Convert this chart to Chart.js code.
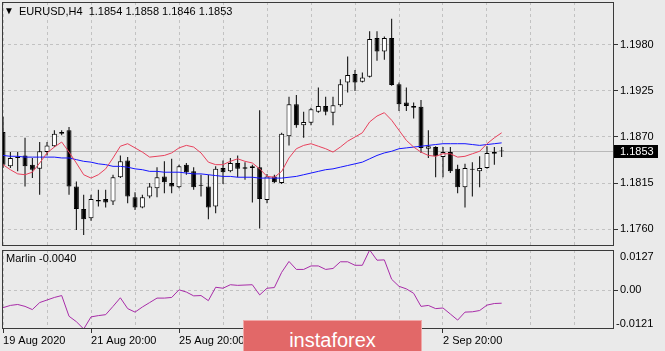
<!DOCTYPE html>
<html>
<head>
<meta charset="utf-8">
<script src="https://cdn.jsdelivr.net/npm/chart.js@4.4.0/dist/chart.umd.min.js"></script>
<style>
html, body { margin: 0; padding: 0; background: #eaeaea; }
#wrap { position: relative; width: 665px; height: 351px; overflow: hidden; background: #eaeaea;
        font-family: "Liberation Sans", Arial, sans-serif; font-size: 11px; color: #000; }
canvas { position: absolute; left: 0; }
#main { top: 0; }
#sub { top: 247px; }
.lbl { position: absolute; white-space: pre; line-height: 13px; }
#logo { position: absolute; left: 243px; top: 320px; width: 177px; height: 40px; background: #e26868;
        border: 1px solid #f0a8a8; color: #fff; font-size: 20px; text-align: center; line-height: 38px; }
</style>
</head>
<body>
<div id="wrap">
  <canvas id="main" width="665" height="249"></canvas>
  <canvas id="sub" width="665" height="104"></canvas>
  <div class="lbl" style="left:4px;top:4px;font-size:10px;">&#9660;</div>
  <div class="lbl" style="left:19px;top:5px;">EURUSD,H4  1.1854 1.1858 1.1846 1.1853</div>
  <div class="lbl" style="left:6px;top:252px;">Marlin -0.0040</div>
  <div class="lbl" style="left:620px;top:250px;">0.0127</div>
  <div class="lbl" style="left:616px;top:317px;">-0.0121</div>
  <div id="logo">instaforex</div>
</div>
<script>
// EURUSD H4 candles, 19 Aug 2020 20:00 .. 4 Sep 2020 04:00
const opens = [
  1.1876, 1.1835, 1.1845, 1.1848, 1.1837, 1.1832, 1.1852, 1.1859, 1.1874, 1.1878,
  1.1811, 1.1784, 1.1773, 1.1793, 1.1796, 1.1793, 1.1822, 1.1842, 1.1798, 1.1786,
  1.1799, 1.1809, 1.1823, 1.1815, 1.1810, 1.1837, 1.1829, 1.1813, 1.1811, 1.1787,
  1.1833, 1.1829, 1.1839, 1.1832, 1.1835, 1.1834, 1.1795, 1.1823, 1.1815, 1.1871,
  1.1909, 1.1884, 1.1887, 1.1900, 1.1907, 1.1899, 1.1908, 1.1935, 1.1945, 1.1936,
  1.1942, 1.1988, 1.1972, 1.1988, 1.1933, 1.1911, 1.1907, 1.1906, 1.1856, 1.1858,
  1.1846, 1.1852, 1.1832, 1.1810, 1.1832, 1.1829, 1.1833, 1.1850, 1.1854
];
const highs = [
  1.1894, 1.1852, 1.1852, 1.1869, 1.1845, 1.1864, 1.1864, 1.1878, 1.1878, 1.1882,
  1.1817, 1.1801, 1.1801, 1.1807, 1.1807, 1.1825, 1.1848, 1.1846, 1.1804, 1.1801,
  1.1815, 1.1834, 1.1841, 1.1844, 1.1837, 1.1839, 1.1834, 1.1825, 1.1825, 1.1835,
  1.1842, 1.1845, 1.1848, 1.1840, 1.1837, 1.1902, 1.1826, 1.1825, 1.1875, 1.1918,
  1.1920, 1.1900, 1.1905, 1.1929, 1.1918, 1.1918, 1.1939, 1.1966, 1.1950, 1.1947,
  1.1996, 1.1996, 1.1990, 1.2011, 1.1935, 1.1929, 1.1911, 1.1914, 1.1878, 1.1859,
  1.1858, 1.1858, 1.1837, 1.1838, 1.1840, 1.1847, 1.1859, 1.1858, 1.1858
];
const lows = [
  1.1833, 1.1833, 1.1829, 1.1811, 1.1821, 1.1801, 1.1848, 1.1858, 1.1872, 1.1801,
  1.1759, 1.1753, 1.1770, 1.1787, 1.1786, 1.1789, 1.1821, 1.1791, 1.1783, 1.1785,
  1.1797, 1.1798, 1.1803, 1.1803, 1.1809, 1.1825, 1.1807, 1.1799, 1.1772, 1.1779,
  1.1814, 1.1828, 1.1822, 1.1819, 1.1792, 1.1761, 1.1791, 1.1815, 1.1814, 1.1860,
  1.1881, 1.1869, 1.1884, 1.1899, 1.1896, 1.1884, 1.1906, 1.1923, 1.1925, 1.1935,
  1.1941, 1.1961, 1.1962, 1.1931, 1.1901, 1.1901, 1.1892, 1.1851, 1.1845, 1.1822,
  1.1822, 1.1827, 1.1803, 1.1786, 1.1799, 1.1810, 1.1832, 1.1837, 1.1846
];
const closes = [
  1.1837, 1.1845, 1.1846, 1.1835, 1.1831, 1.1853, 1.1860, 1.1874, 1.1876, 1.1811,
  1.1784, 1.1772, 1.1796, 1.1795, 1.1792, 1.1822, 1.1841, 1.1799, 1.1786, 1.1798,
  1.1811, 1.1822, 1.1816, 1.1811, 1.1835, 1.1828, 1.1810, 1.1812, 1.1786, 1.1832,
  1.1828, 1.1839, 1.1832, 1.1834, 1.1833, 1.1796, 1.1823, 1.1816, 1.1874, 1.1909,
  1.1884, 1.1888, 1.1903, 1.1907, 1.1900, 1.1908, 1.1933, 1.1944, 1.1935, 1.1941,
  1.1987, 1.1972, 1.1988, 1.1932, 1.1909, 1.1907, 1.1905, 1.1857, 1.1859, 1.1847,
  1.1852, 1.1829, 1.1810, 1.1833, 1.1831, 1.1833, 1.1851, 1.1852, 1.1853
];

// moving averages drawn on the price panel
const fastMA = [
  1.1837, 1.1831, 1.1826, 1.1825, 1.1828, 1.1839, 1.1851, 1.1858, 1.1864, 1.1852,
  1.1839, 1.1825, 1.1821, 1.1825, 1.1832, 1.1845, 1.1859, 1.1862, 1.1857, 1.1852,
  1.1846, 1.1847, 1.1848, 1.1851, 1.1857, 1.1860, 1.1858, 1.1851, 1.1840, 1.1837,
  1.1837, 1.1841, 1.1844, 1.1841, 1.1839, 1.1832, 1.1823, 1.1822, 1.1829, 1.1845,
  1.1856, 1.1860, 1.1862, 1.1859, 1.1856, 1.1852, 1.1858, 1.1865, 1.1870, 1.1875,
  1.1888, 1.1895, 1.1899, 1.1890, 1.1878, 1.1866, 1.1858, 1.1852, 1.1848, 1.1847,
  1.1850, 1.1850, 1.1846, 1.1847, 1.1850, 1.1853, 1.1862, 1.1869, 1.1875
];
const slowMA = [
  1.1848, 1.1847, 1.1847, 1.1846, 1.1846, 1.1846, 1.1846, 1.1846, 1.1845, 1.1845,
  1.1843, 1.1841, 1.1840, 1.1838, 1.1837, 1.1835, 1.1835, 1.1834, 1.1832, 1.1831,
  1.1829, 1.1829, 1.1828, 1.1828, 1.1828, 1.1827, 1.1826, 1.1826, 1.1825, 1.1824,
  1.1823, 1.1823, 1.1822, 1.1822, 1.1822, 1.1821, 1.1821, 1.1821, 1.1821, 1.1822,
  1.1823, 1.1825, 1.1827, 1.1829, 1.1831, 1.1832, 1.1834, 1.1836, 1.1838, 1.1840,
  1.1844, 1.1848, 1.1851, 1.1853, 1.1856, 1.1857, 1.1858, 1.1859, 1.1860, 1.1861,
  1.1862, 1.1862, 1.1862, 1.1862, 1.1861, 1.1860, 1.1861, 1.1862, 1.1863
];

// Marlin oscillator (sub window)
const marlin = [
  -0.0054, -0.0047, -0.0044, -0.0050, -0.0060, -0.0038, -0.0030, -0.0022, -0.0016, -0.0081,
  -0.0098, -0.0121, -0.0083, -0.0079, -0.0076, -0.0050, -0.0023, -0.0057, -0.0068, -0.0052,
  -0.0038, -0.0024, -0.0024, -0.0022, 0.0002, -0.0005, -0.0017, -0.0016, -0.0032, 0.0010,
  0.0007, 0.0018, 0.0016, 0.0017, 0.0018, -0.0014, 0.0007, 0.0009, 0.0057, 0.0091,
  0.0066, 0.0066, 0.0077, 0.0077, 0.0066, 0.0069, 0.0090, 0.0090, 0.0079, 0.0079,
  0.0127, 0.0095, 0.0096, 0.0035, 0.0013, 0.0005, -0.0009, -0.0050, -0.0047, -0.0057,
  -0.0055, -0.0074, -0.0093, -0.0068, -0.0067, -0.0063, -0.0046, -0.0041, -0.0040
];

const priceTicks = [1.1760, 1.1815, 1.1870, 1.1925, 1.1980];
const gridBars = [0, 6, 12, 18, 24, 30, 36, 42, 48, 54, 60, 66, 72, 78];
const dateBars = [0, 12, 24, 36, 48, 60];
const dateLabels = ["19 Aug 2020", "21 Aug 20:00", "25 Aug 20:00", "27 Aug 20:00", "31 Aug 20:00", "2 Sep 20:00"];

const X_MIN = -0.14;
const X_MAX = 83.32;
const GRID = "#c2c2c2";

Chart.defaults.font.family = "'Liberation Sans', Arial, sans-serif";
Chart.defaults.font.size = 11;
Chart.defaults.color = "#000";

const pts = arr => arr.map((v, i) => ({ x: i, y: v }));
const noPad = s => { s.paddingTop = 0; s.paddingBottom = 0; s.paddingLeft = 0; s.paddingRight = 0; };

// frame around the plot area, like the terminal draws it
const framePlugin = {
    id: "frame",
    afterDraw(chart) {
        const { ctx, chartArea: a } = chart;
        ctx.save();
        ctx.strokeStyle = "#3a3a3a";
        ctx.lineWidth = 1;
        ctx.strokeRect(Math.round(a.left) + 0.5, Math.round(a.top) + 0.5,
            Math.round(a.right - a.left) - 1, Math.round(a.bottom - a.top) - 1);
        ctx.restore();
    }
};

// bid line and price tag for the last close
const bidPlugin = {
    id: "bid",
    beforeDatasetsDraw(chart) {
        const { ctx, chartArea: a } = chart;
        const y = Math.round(chart.scales.y.getPixelForValue(closes[closes.length - 1])) + 0.5;
        ctx.save();
        ctx.strokeStyle = "#b9b9b9";
        ctx.lineWidth = 1;
        ctx.beginPath();
        ctx.moveTo(a.left, y);
        ctx.lineTo(a.right, y);
        ctx.stroke();
        ctx.restore();
    },
    afterDraw(chart) {
        const { ctx, chartArea: a } = chart;
        const last = closes[closes.length - 1];
        const y = Math.round(chart.scales.y.getPixelForValue(last));
        ctx.save();
        ctx.fillStyle = "#000";
        ctx.fillRect(a.right, y - 6, 44, 13);
        ctx.fillStyle = "#fff";
        ctx.font = "11px 'Liberation Sans', Arial, sans-serif";
        ctx.textBaseline = "middle";
        ctx.fillText(last.toFixed(4), a.right + 6, y + 0.5);
        ctx.restore();
    }
};

new Chart(document.getElementById("main"), {
    type: "bar",
    data: {
        datasets: [
            { type: "line", data: pts(fastMA), borderColor: "#e8415c", borderWidth: 1, pointRadius: 0 },
            { type: "line", data: pts(slowMA), borderColor: "#1515ff", borderWidth: 1, pointRadius: 0 },
            {
                data: opens.map((o, i) => ({ x: i, y: [o, closes[i]] })),
                backgroundColor: ctx => closes[ctx.dataIndex] >= opens[ctx.dataIndex] ? "#fff" : "#000",
                borderColor: "#000",
                borderWidth: 1,
                borderSkipped: false,
                barThickness: 5,
                grouped: false,
                inflateAmount: 0
            },
            {
                data: lows.map((l, i) => ({ x: i, y: [l, highs[i]] })),
                backgroundColor: "#000",
                borderWidth: 0,
                barThickness: 1,
                grouped: false,
                inflateAmount: 0
            }
        ]
    },
    options: {
        responsive: false,
        animation: false,
        devicePixelRatio: 1,
        layout: { padding: { left: 2, top: 2, right: 0, bottom: 3 } },
        plugins: { legend: { display: false }, tooltip: { enabled: false } },
        scales: {
            x: {
                type: "linear", min: X_MIN, max: X_MAX, offset: false,
                afterBuildTicks: s => { s.ticks = gridBars.map(v => ({ value: v })); },
                ticks: { display: false },
                grid: { color: GRID, drawTicks: false, offset: false },
                border: { display: false, dash: [3, 3] },
                afterFit: s => { s.height = 0; noPad(s); }
            },
            y: {
                position: "right", min: 1.1740, max: 1.2031,
                afterBuildTicks: s => { s.ticks = priceTicks.map(v => ({ value: v })); },
                ticks: { callback: v => v.toFixed(4), padding: 2 },
                grid: { color: GRID, tickColor: "#333", tickLength: 4 },
                border: { display: false, dash: [3, 3] },
                afterFit: s => { s.width = 51; noPad(s); }
            }
        }
    },
    plugins: [bidPlugin, framePlugin]
});

new Chart(document.getElementById("sub"), {
    type: "line",
    data: {
        datasets: [
            { data: pts(marlin), borderColor: "#a82ca8", borderWidth: 1, pointRadius: 0 }
        ]
    },
    options: {
        responsive: false,
        animation: false,
        devicePixelRatio: 1,
        layout: { padding: { left: 2, top: 3, right: 0, bottom: 0 } },
        plugins: { legend: { display: false }, tooltip: { enabled: false } },
        scales: {
            x: {
                type: "linear", min: X_MIN, max: X_MAX, offset: false,
                afterBuildTicks: s => { s.ticks = gridBars.map(v => ({ value: v })); },
                ticks: {
                    autoSkip: false, maxRotation: 0, align: "start", padding: 1,
                    callback: v => { const k = dateBars.indexOf(v); return k >= 0 ? dateLabels[k] : ""; }
                },
                grid: {
                    color: GRID, tickLength: 4,
                    tickColor: ctx => (ctx.tick && dateBars.includes(ctx.tick.value)) ? "#333" : "rgba(0,0,0,0)"
                },
                border: { display: false, dash: [3, 3] },
                afterFit: s => { s.height = 22; noPad(s); }
            },
            y: {
                position: "right", min: -0.0121, max: 0.0127,
                afterBuildTicks: s => { s.ticks = [{ value: 0 }]; },
                ticks: { callback: () => "0.00", padding: 2 },
                grid: { color: GRID, tickColor: "#333", tickLength: 4 },
                border: { display: false, dash: [3, 3] },
                afterFit: s => { s.width = 51; noPad(s); }
            }
        }
    },
    plugins: [framePlugin]
});
</script>
</body>
</html>
